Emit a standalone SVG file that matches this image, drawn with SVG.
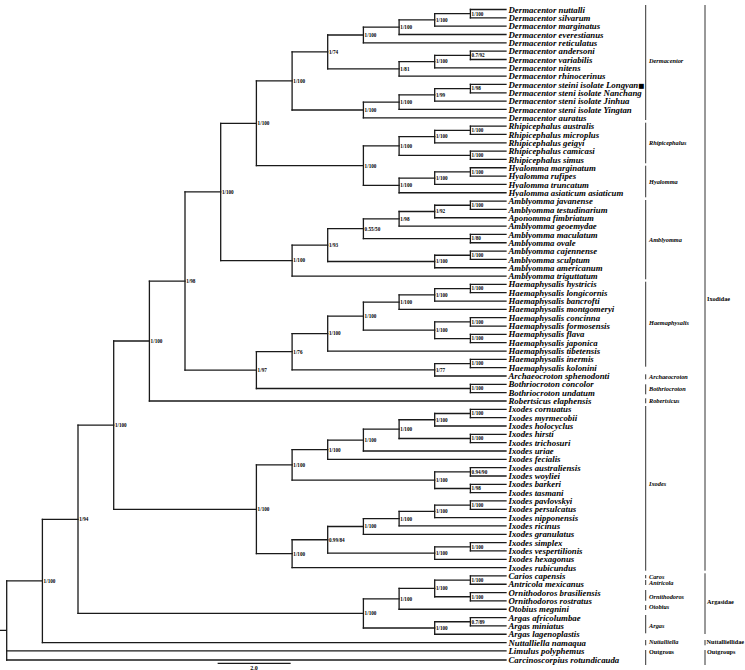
<svg xmlns="http://www.w3.org/2000/svg" width="745" height="670" viewBox="0 0 745 670">
<style>
.e{stroke:#1a1a1a;stroke-width:1.3;fill:none;stroke-linecap:square}
.b{stroke:#333;stroke-width:1;fill:none}
.t{font-family:"Liberation Serif",serif;font-weight:bold;font-style:italic;font-size:8.8px;fill:#000}
.n{font-family:"Liberation Serif",serif;font-weight:bold;font-size:5.2px;fill:#000}
.g{font-family:"Liberation Serif",serif;font-weight:bold;font-style:italic;font-size:6.3px;fill:#000}
.f{font-family:"Liberation Serif",serif;font-weight:bold;font-size:6.2px;fill:#000}
.sq{font-family:"DejaVu Sans",sans-serif;font-style:normal;font-size:6.5px}
</style>
<rect width="745" height="670" fill="#fff"/>
<g id="connectors">
<path class="e" d="M0 630.4H6.7 M6.7 580.94V660 M42.4 519.3V642.58 M78 425.17V613.43 M113.7 341.02V509.31 M149.4 281.03V401.01 M185 191.95V370.1 M220.7 123.32V260.57 M256.4 80.96V165.69 M292.1 51.93V109.98 M327.7 35.01V68.86 M363.4 27.21V42.82 M399.1 19.92V34.49 M434.7 13.67V26.16 M470.4 9.5V17.83 M399.1 61.57V76.14 M434.7 55.32V67.81 M470.4 51.15V59.48 M363.4 102.17V117.79 M399.1 94.88V109.46 M434.7 88.64V101.13 M470.4 84.47V92.8 M363.4 145.9V185.47 M399.1 136.53V155.28 M434.7 130.29V142.78 M470.4 126.12V134.45 M470.4 151.11V159.44 M399.1 178.18V192.76 M434.7 171.94V184.43 M470.4 167.77V176.1 M292.1 245.08V276.06 M327.7 228.68V261.48 M363.4 218.79V238.58 M399.1 211.5V226.08 M434.7 205.26V217.75 M470.4 201.09V209.42 M470.4 234.41V242.74 M434.7 255.24V267.73 M470.4 251.07V259.4 M256.4 351.68V388.52 M292.1 333.59V369.78 M327.7 316.15V351.03 M363.4 302.09V330.21 M399.1 294.8V309.38 M434.7 288.56V301.05 M470.4 284.39V292.72 M434.7 321.88V338.54 M470.4 317.71V326.04 M470.4 334.37V342.7 M434.7 363.53V376.02 M470.4 359.36V367.69 M470.4 384.35V392.68 M256.4 464.92V553.69 M292.1 449.69V480.15 M327.7 440.06V459.32 M363.4 429.13V450.99 M399.1 419.75V438.5 M434.7 413.51V426 M470.4 409.34V417.67 M470.4 434.33V442.66 M434.7 471.82V488.48 M470.4 467.65V475.98 M470.4 484.31V492.64 M292.1 539.77V567.61 M327.7 526.49V553.04 M363.4 518.68V534.29 M399.1 511.39V525.96 M434.7 505.14V517.63 M470.4 500.97V509.3 M434.7 546.79V559.28 M470.4 542.62V550.95 M363.4 598.85V628 M399.1 588.44V609.26 M434.7 580.11V596.77 M470.4 575.94V584.27 M470.4 592.6V600.93 M434.7 621.76V634.25 M470.4 617.59V625.92"/>
<path class="e" d="M6.7 580.94H42.4 M42.4 519.3H78 M78 425.17H113.7 M78 613.43H363.4 M113.7 341.02H149.4 M113.7 509.31H256.4 M149.4 281.03H185 M185 191.95H220.7 M185 370.1H256.4 M220.7 123.32H256.4 M220.7 260.57H292.1 M256.4 80.96H292.1 M256.4 165.69H363.4 M292.1 51.93H327.7 M292.1 109.98H363.4 M327.7 35.01H363.4 M327.7 68.86H399.1 M363.4 27.21H399.1 M399.1 19.92H434.7 M434.7 13.67H470.4 M399.1 61.57H434.7 M434.7 55.32H470.4 M363.4 102.17H399.1 M399.1 94.88H434.7 M434.7 88.64H470.4 M363.4 145.9H399.1 M363.4 185.47H399.1 M399.1 136.53H434.7 M399.1 155.28H470.4 M434.7 130.29H470.4 M399.1 178.18H434.7 M434.7 171.94H470.4 M292.1 245.08H327.7 M327.7 228.68H363.4 M327.7 261.48H434.7 M363.4 218.79H399.1 M363.4 238.58H470.4 M399.1 211.5H434.7 M434.7 205.26H470.4 M434.7 255.24H470.4 M256.4 351.68H292.1 M256.4 388.52H470.4 M292.1 333.59H327.7 M292.1 369.78H434.7 M327.7 316.15H363.4 M363.4 302.09H399.1 M363.4 330.21H434.7 M399.1 294.8H434.7 M434.7 288.56H470.4 M434.7 321.88H470.4 M434.7 338.54H470.4 M434.7 363.53H470.4 M256.4 464.92H292.1 M256.4 553.69H292.1 M292.1 449.69H327.7 M292.1 480.15H434.7 M327.7 440.06H363.4 M363.4 429.13H399.1 M399.1 419.75H434.7 M399.1 438.5H470.4 M434.7 413.51H470.4 M434.7 471.82H470.4 M434.7 488.48H470.4 M292.1 539.77H327.7 M327.7 526.49H363.4 M327.7 553.04H434.7 M363.4 518.68H399.1 M399.1 511.39H434.7 M434.7 505.14H470.4 M434.7 546.79H470.4 M363.4 598.85H399.1 M363.4 628H434.7 M399.1 588.44H434.7 M434.7 580.11H470.4 M434.7 596.77H470.4 M434.7 621.76H470.4"/>
<path class="e" d="M470.4 9.5H506 M470.4 17.83H506 M434.7 26.16H506 M399.1 34.49H506 M363.4 42.82H506 M470.4 51.15H506 M470.4 59.48H506 M434.7 67.81H506 M399.1 76.14H506 M470.4 84.47H506 M470.4 92.8H506 M434.7 101.13H506 M399.1 109.46H506 M363.4 117.79H506 M470.4 126.12H506 M470.4 134.45H506 M434.7 142.78H506 M470.4 151.11H506 M470.4 159.44H506 M470.4 167.77H506 M470.4 176.1H506 M434.7 184.43H506 M399.1 192.76H506 M470.4 201.09H506 M470.4 209.42H506 M434.7 217.75H506 M399.1 226.08H506 M470.4 234.41H506 M470.4 242.74H506 M470.4 251.07H506 M470.4 259.4H506 M434.7 267.73H506 M292.1 276.06H506 M470.4 284.39H506 M470.4 292.72H506 M434.7 301.05H506 M399.1 309.38H506 M470.4 317.71H506 M470.4 326.04H506 M470.4 334.37H506 M470.4 342.7H506 M327.7 351.03H506 M470.4 359.36H506 M470.4 367.69H506 M434.7 376.02H506 M470.4 384.35H506 M470.4 392.68H506 M149.4 401.01H506 M470.4 409.34H506 M470.4 417.67H506 M434.7 426H506 M470.4 434.33H506 M470.4 442.66H506 M363.4 450.99H506 M327.7 459.32H506 M470.4 467.65H506 M470.4 475.98H506 M470.4 484.31H506 M470.4 492.64H506 M470.4 500.97H506 M470.4 509.3H506 M434.7 517.63H506 M399.1 525.96H506 M363.4 534.29H506 M470.4 542.62H506 M470.4 550.95H506 M434.7 559.28H506 M292.1 567.61H506 M470.4 575.94H506 M470.4 584.27H506 M470.4 592.6H506 M470.4 600.93H506 M399.1 609.26H506 M470.4 617.59H506 M470.4 625.92H506 M434.7 634.25H506 M42.4 642.58H506 M6.7 650.91H506 M6.7 660H506"/>
</g>
<g id="brackets">
<path class="b" d="M645.7 5V120 M645.7 122.7V163.3 M645.7 165.7V197.3 M645.7 200V279.3 M645.7 281.7V366.7 M645.7 374.3V379.3 M645.7 384.3V394.3 M645.7 398.3V403.3 M645.7 406V570.7 M645.7 575V578.3 M645.7 580V585 M645.7 590V600.7 M645.7 605V610 M645.7 615V633.3 M645.7 640V645.3 M645.7 650V665 M705 5V570.7 M705 573.3V634 M705 640V645.3 M705 650V665"/>
<text class="g" x="649" y="63">Dermacentor</text>
<text class="g" x="649" y="145">Rhipicephalus</text>
<text class="g" x="649" y="183.5">Hyalomma</text>
<text class="g" x="649" y="241.5">Amblyomma</text>
<text class="g" x="649" y="325">Haemaphysalis</text>
<text class="g" x="649" y="378.8">Archaeocroton</text>
<text class="g" x="649" y="391.3">Bothriocroton</text>
<text class="g" x="649" y="402.8">Robertsicus</text>
<text class="g" x="649" y="486">Ixodes</text>
<text class="g" x="649" y="578.5">Caros</text>
<text class="g" x="649" y="584.8">Antricola</text>
<text class="g" x="649" y="598.5">Ornithodoros</text>
<text class="g" x="649" y="609.3">Otobius</text>
<text class="g" x="649" y="628">Argas</text>
<text class="g" x="649" y="644.3">Nuttalliella</text>
<text class="f" x="649" y="654">Outgrous</text>
<text class="f" x="707" y="301">Ixodidae</text>
<text class="f" x="707" y="603.7">Argasidae</text>
<text class="f" x="706.5" y="644.3">Nuttalliellidae</text>
<text class="f" x="707" y="654">Outgroups</text>
</g>
<g id="scale">
<path class="e" d="M218.3 663.3H290"/>
<text class="n" x="254" y="669.8" text-anchor="middle" style="font-size:6px">2.0</text>
</g>
<g id="tips" class="t">
<g id="tip00"><text x="508.5" y="12.6">Dermacentor nuttalli</text></g>
<g id="tip01"><text x="508.5" y="20.93">Dermacentor silvarum</text></g>
<g id="tip02"><text x="508.5" y="29.26">Dermacentor marginatus</text></g>
<g id="tip03"><text x="508.5" y="37.59">Dermacentor everestianus</text></g>
<g id="tip04"><text x="508.5" y="45.92">Dermacentor reticulatus</text></g>
<g id="tip05"><text x="508.5" y="54.25">Dermacentor andersoni</text></g>
<g id="tip06"><text x="508.5" y="62.58">Dermacentor variabilis</text></g>
<g id="tip07"><text x="508.5" y="70.91">Dermacentor nitens</text></g>
<g id="tip08"><text x="508.5" y="79.24">Dermacentor rhinocerinus</text></g>
<g id="tip09"><text x="508.5" y="87.57">Dermacentor steini isolate Longyan<tspan class="sq">■</tspan></text></g>
<g id="tip10"><text x="508.5" y="95.9">Dermacentor steni isolate Nanchang</text></g>
<g id="tip11"><text x="508.5" y="104.23">Dermacentor steni isolate Jinhua</text></g>
<g id="tip12"><text x="508.5" y="112.56">Dermacentor steni isolate Yingtan</text></g>
<g id="tip13"><text x="508.5" y="120.89">Dermacentor auratus</text></g>
<g id="tip14"><text x="508.5" y="129.22">Rhipicephalus australis</text></g>
<g id="tip15"><text x="508.5" y="137.55">Rhipicephalus microplus</text></g>
<g id="tip16"><text x="508.5" y="145.88">Rhipicephalus geigyi</text></g>
<g id="tip17"><text x="508.5" y="154.21">Rhipicephalus camicasi</text></g>
<g id="tip18"><text x="508.5" y="162.54">Rhipicephalus simus</text></g>
<g id="tip19"><text x="508.5" y="170.87">Hyalomma marginatum</text></g>
<g id="tip20"><text x="508.5" y="179.2">Hyalomma rufipes</text></g>
<g id="tip21"><text x="508.5" y="187.53">Hyalomma truncatum</text></g>
<g id="tip22"><text x="508.5" y="195.86">Hyalomma asiaticum asiaticum</text></g>
<g id="tip23"><text x="508.5" y="204.19">Amblyomma javanense</text></g>
<g id="tip24"><text x="508.5" y="212.52">Amblyomma testudinarium</text></g>
<g id="tip25"><text x="508.5" y="220.85">Aponomma fimbriatum</text></g>
<g id="tip26"><text x="508.5" y="229.18">Amblyomma geoemydae</text></g>
<g id="tip27"><text x="508.5" y="237.51">Amblyomma maculatum</text></g>
<g id="tip28"><text x="508.5" y="245.84">Amblyomma ovale</text></g>
<g id="tip29"><text x="508.5" y="254.17">Amblyomma cajennense</text></g>
<g id="tip30"><text x="508.5" y="262.5">Amblyomma sculptum</text></g>
<g id="tip31"><text x="508.5" y="270.83">Amblyomma americanum</text></g>
<g id="tip32"><text x="508.5" y="279.16">Amblyomma triguttatum</text></g>
<g id="tip33"><text x="508.5" y="287.49">Haemaphysalis hystricis</text></g>
<g id="tip34"><text x="508.5" y="295.82">Haemaphysalis longicornis</text></g>
<g id="tip35"><text x="508.5" y="304.15">Haemaphysalis bancrofti</text></g>
<g id="tip36"><text x="508.5" y="312.48">Haemaphysalis montgomeryi</text></g>
<g id="tip37"><text x="508.5" y="320.81">Haemaphysalis concinna</text></g>
<g id="tip38"><text x="508.5" y="329.14">Haemaphysalis formosensis</text></g>
<g id="tip39"><text x="508.5" y="337.47">Haemaphysalis flava</text></g>
<g id="tip40"><text x="508.5" y="345.8">Haemaphysalis japonica</text></g>
<g id="tip41"><text x="508.5" y="354.13">Haemaphysalis tibetensis</text></g>
<g id="tip42"><text x="508.5" y="362.46">Haemaphysalis inermis</text></g>
<g id="tip43"><text x="508.5" y="370.79">Haemaphysalis kolonini</text></g>
<g id="tip44"><text x="508.5" y="379.12">Archaeocroton sphenodonti</text></g>
<g id="tip45"><text x="508.5" y="387.45">Bothriocroton concolor</text></g>
<g id="tip46"><text x="508.5" y="395.78">Bothriocroton undatum</text></g>
<g id="tip47"><text x="508.5" y="404.11">Robertsicus elaphensis</text></g>
<g id="tip48"><text x="508.5" y="412.44">Ixodes cornuatus</text></g>
<g id="tip49"><text x="508.5" y="420.77">Ixodes myrmecobii</text></g>
<g id="tip50"><text x="508.5" y="429.1">Ixodes holocyclus</text></g>
<g id="tip51"><text x="508.5" y="437.43">Ixodes hirsti</text></g>
<g id="tip52"><text x="508.5" y="445.76">Ixodes trichosuri</text></g>
<g id="tip53"><text x="508.5" y="454.09">Ixodes uriae</text></g>
<g id="tip54"><text x="508.5" y="462.42">Ixodes fecialis</text></g>
<g id="tip55"><text x="508.5" y="470.75">Ixodes australiensis</text></g>
<g id="tip56"><text x="508.5" y="479.08">Ixodes woyliei</text></g>
<g id="tip57"><text x="508.5" y="487.41">Ixodes barkeri</text></g>
<g id="tip58"><text x="508.5" y="495.74">Ixodes tasmani</text></g>
<g id="tip59"><text x="508.5" y="504.07">Ixodes pavlovskyi</text></g>
<g id="tip60"><text x="508.5" y="512.4">Ixodes persulcatus</text></g>
<g id="tip61"><text x="508.5" y="520.73">Ixodes nipponensis</text></g>
<g id="tip62"><text x="508.5" y="529.06">Ixodes ricinus</text></g>
<g id="tip63"><text x="508.5" y="537.39">Ixodes granulatus</text></g>
<g id="tip64"><text x="508.5" y="545.72">Ixodes simplex</text></g>
<g id="tip65"><text x="508.5" y="554.05">Ixodes vespertilionis</text></g>
<g id="tip66"><text x="508.5" y="562.38">Ixodes hexagonus</text></g>
<g id="tip67"><text x="508.5" y="570.71">Ixodes rubicundus</text></g>
<g id="tip68"><text x="508.5" y="579.04">Carios capensis</text></g>
<g id="tip69"><text x="508.5" y="587.37">Antricola mexicanus</text></g>
<g id="tip70"><text x="508.5" y="595.7">Ornithodoros brasiliensis</text></g>
<g id="tip71"><text x="508.5" y="604.03">Ornithodoros rostratus</text></g>
<g id="tip72"><text x="508.5" y="612.36">Otobius megnini</text></g>
<g id="tip73"><text x="508.5" y="620.69">Argas africolumbae</text></g>
<g id="tip74"><text x="508.5" y="629.02">Argas miniatus</text></g>
<g id="tip75"><text x="508.5" y="637.35">Argas lagenoplastis</text></g>
<g id="tip76"><text x="508.5" y="645.68">Nuttalliella namaqua</text></g>
<g id="tip77"><text x="508.5" y="654.01">Limulus polyphemus</text></g>
<g id="tip78"><text x="508.5" y="663.1">Carcinoscorpius rotundicauda</text></g>
</g>
<g id="nodes" class="n">
<g id="nU"><text x="471.6" y="15.5">1/100</text></g>
<g id="nT"><text x="435.9" y="21.7">1/100</text></g>
<g id="nS"><text x="400.3" y="29">1/100</text></g>
<g id="nQ"><text x="364.6" y="36.8">1/100</text></g>
<g id="nW"><text x="471.6" y="57.1">0.7/92</text></g>
<g id="nV"><text x="435.9" y="63.4">1/100</text></g>
<g id="nR"><text x="400.3" y="70.7">1/81</text></g>
<g id="nO"><text x="328.9" y="53.7">1/74</text></g>
<g id="nZ"><text x="471.6" y="90.4">1/98</text></g>
<g id="nY"><text x="435.9" y="96.7">1/99</text></g>
<g id="nX"><text x="400.3" y="104">1/100</text></g>
<g id="nP"><text x="364.6" y="111.8">1/100</text></g>
<g id="nM"><text x="293.3" y="82.8">1/100</text></g>
<g id="nRh1a"><text x="471.6" y="132.1">1/100</text></g>
<g id="nRh1"><text x="435.9" y="138.3">1/100</text></g>
<g id="nRh2"><text x="471.6" y="157.1">1/100</text></g>
<g id="nRh"><text x="400.3" y="147.7">1/100</text></g>
<g id="nHy2"><text x="471.6" y="173.7">1/100</text></g>
<g id="nHy1"><text x="435.9" y="180">1/100</text></g>
<g id="nHy"><text x="400.3" y="187.3">1/100</text></g>
<g id="nN"><text x="364.6" y="167.5">1/100</text></g>
<g id="nJ"><text x="257.6" y="125.1">1/100</text></g>
<g id="nA1"><text x="471.6" y="207.1">1/100</text></g>
<g id="nA2"><text x="435.9" y="213.3">1/92</text></g>
<g id="nA3"><text x="400.3" y="220.6">1/98</text></g>
<g id="nA4"><text x="471.6" y="240.4">1/80</text></g>
<g id="nA5"><text x="364.6" y="230.5">0.55/50</text></g>
<g id="nA6"><text x="471.6" y="257">1/100</text></g>
<g id="nA7"><text x="435.9" y="263.3">1/100</text></g>
<g id="nK1"><text x="328.9" y="246.9">1/93</text></g>
<g id="nK"><text x="293.3" y="262.4">1/100</text></g>
<g id="nH"><text x="221.9" y="193.8">1/100</text></g>
<g id="nHa2b"><text x="471.6" y="290.4">1/100</text></g>
<g id="nHa2a"><text x="435.9" y="296.6">1/100</text></g>
<g id="nHa2"><text x="400.3" y="303.9">1/100</text></g>
<g id="nHa3a"><text x="471.6" y="323.7">1/100</text></g>
<g id="nHa3b"><text x="471.6" y="340.3">1/100</text></g>
<g id="nHa3"><text x="435.9" y="332">1/100</text></g>
<g id="nHa1"><text x="364.6" y="318">1/100</text></g>
<g id="nHaema"><text x="328.9" y="335.4">1/100</text></g>
<g id="nI3"><text x="471.6" y="365.3">1/100</text></g>
<g id="nI2"><text x="435.9" y="371.6">1/77</text></g>
<g id="nI1"><text x="293.3" y="353.5">1/76</text></g>
<g id="nBo"><text x="471.6" y="390.3">1/100</text></g>
<g id="nI"><text x="257.6" y="371.9">1/97</text></g>
<g id="nG"><text x="186.2" y="282.8">1/98</text></g>
<g id="nE"><text x="150.6" y="342.8">1/100</text></g>
<g id="nIxa"><text x="471.6" y="415.3">1/100</text></g>
<g id="nIxb"><text x="435.9" y="421.6">1/100</text></g>
<g id="nIxc"><text x="471.6" y="440.3">1/100</text></g>
<g id="nIxd"><text x="400.3" y="430.9">1/100</text></g>
<g id="nIxe"><text x="364.6" y="441.9">1/100</text></g>
<g id="nF3"><text x="328.9" y="451.5">1/100</text></g>
<g id="nIxf"><text x="471.6" y="473.6">0.94/90</text></g>
<g id="nIxg"><text x="471.6" y="490.3">1/98</text></g>
<g id="nF4"><text x="435.9" y="482">1/100</text></g>
<g id="nF1"><text x="293.3" y="466.7">1/100</text></g>
<g id="nF11"><text x="471.6" y="506.9">1/100</text></g>
<g id="nF10"><text x="435.9" y="513.2">1/100</text></g>
<g id="nF9"><text x="400.3" y="520.5">1/100</text></g>
<g id="nF6"><text x="364.6" y="528.3">1/100</text></g>
<g id="nF8"><text x="471.6" y="548.6">1/100</text></g>
<g id="nF7"><text x="435.9" y="554.8">1/100</text></g>
<g id="nF5"><text x="328.9" y="541.6">0.99/84</text></g>
<g id="nF2"><text x="293.3" y="555.5">1/100</text></g>
<g id="nF"><text x="257.6" y="511.1">1/100</text></g>
<g id="nC"><text x="114.9" y="427">1/100</text></g>
<g id="nD4"><text x="471.6" y="581.9">1/100</text></g>
<g id="nD5"><text x="471.6" y="598.6">1/100</text></g>
<g id="nD3"><text x="435.9" y="590.2">1/100</text></g>
<g id="nD1"><text x="400.3" y="600.7">1/100</text></g>
<g id="nD6"><text x="471.6" y="623.6">0.7/89</text></g>
<g id="nD2"><text x="435.9" y="629.8">1/100</text></g>
<g id="nD"><text x="364.6" y="615.2">1/100</text></g>
<g id="nB"><text x="79.2" y="521.1">1/94</text></g>
<g id="nA"><text x="43.6" y="582.7">1/100</text></g>
</g>
</svg>
